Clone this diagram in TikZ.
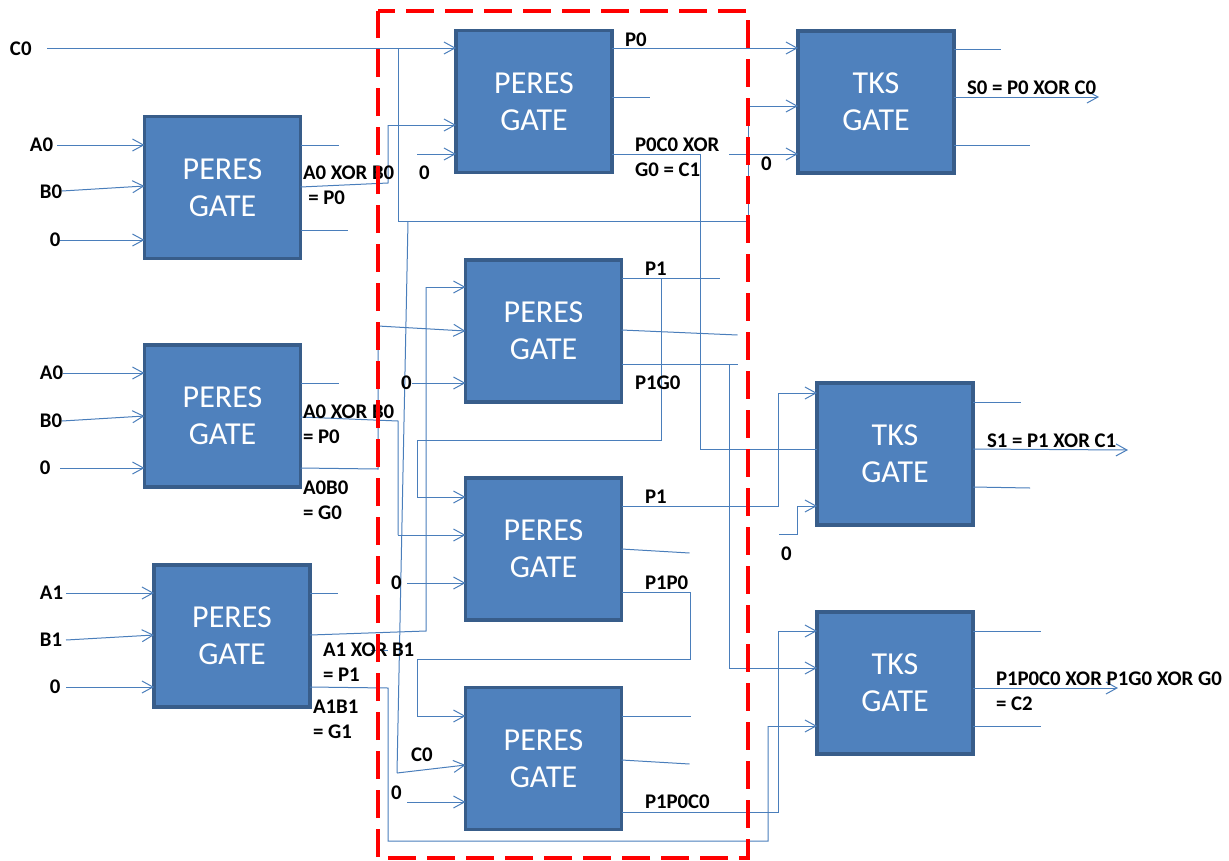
\documentclass[tikz,border=0pt]{standalone}
\usepackage{fontspec}
\setmainfont{Carlito}
\usetikzlibrary{arrows.meta}
\definecolor{gatefill}{HTML}{4F81BD}
\definecolor{gateline}{HTML}{385D8A}
\definecolor{wirecol}{HTML}{4A7EBB}
\tikzset{
  gatebox/.style={rectangle,draw=gateline,fill=gatefill,line width=2.5pt,minimum width=117pt,minimum height=106.5pt,
    inner sep=0pt,outer sep=0pt,text=white,align=center,font=\fontsize{24}{27.75}\selectfont},
  wire/.style={draw=wirecol,line width=0.75pt},
  arr/.style={wire,-{Straight Barb[length=8.25pt,width=9pt,line width=0.75pt]}},
  lab/.style={anchor=west,inner sep=0pt,outer sep=0pt,align=left,text=black,font=\fontsize{15.6}{18.75}\selectfont\bfseries},
  redframe/.style={draw=red,line width=2.7pt,dash pattern=on 21pt off 8.25pt,dash phase=8.25pt,line join=miter}
}
\begin{document}
\begin{tikzpicture}[x=0.75pt,y=-0.75pt]
\useasboundingbox (0,0) rectangle (1229,861);
% gates
\node[gatebox] (G1) at (222.5,187.5) {PERES\\GATE};
\node[gatebox] (G2) at (222.5,416) {PERES\\GATE};
\node[gatebox] (G3) at (232,636) {PERES\\GATE};
\node[gatebox] (P1) at (534,101.5) {PERES\\GATE};
\node[gatebox] (P2) at (543.5,331) {PERES\\GATE};
\node[gatebox] (P3) at (543.5,549) {PERES\\GATE};
\node[gatebox] (P4) at (543.5,758.5) {PERES\\GATE};
\node[gatebox] (T1) at (876,102) {TKS\\GATE};
\node[gatebox] (T2) at (895,454) {TKS\\GATE};
\node[gatebox] (T3) at (895,683) {TKS\\GATE};
% free ends and junctions
\coordinate (c0s) at (47,48);
\coordinate (c0j) at (398,48);
\coordinate (c0c) at (398,221);
\coordinate (c0r) at (748,221);
\coordinate (c0u) at (748,106);
\coordinate (c0b) at (408,221);
\coordinate (c0d) at (397,773);
\coordinate (ia0) at (57,145);
\coordinate (ib0) at (62,191);
\coordinate (iz0) at (60,240);
\coordinate (ja0) at (63,373);
\coordinate (jb0) at (62,421);
\coordinate (jz0) at (60,468);
\coordinate (ka1) at (66,593);
\coordinate (kb1) at (66,640);
\coordinate (kz0) at (66,687);
\coordinate (g1a) at (388,183);
\coordinate (g1b) at (388,125);
\coordinate (g2a) at (398,421);
\coordinate (g2b) at (398,535);
\coordinate (g2c) at (378,469);
\coordinate (g2d) at (378,326);
\coordinate (g3a) at (426,631);
\coordinate (g3b) at (426,287);
\coordinate (g3c) at (388,688);
\coordinate (g3d) at (388,841);
\coordinate (g3e) at (768,841);
\coordinate (g3f) at (768,726);
\coordinate (st0) at (371,650);
\coordinate (st1) at (388,650);
\coordinate (p1z) at (417,154);
\coordinate (p1j) at (700,154);
\coordinate (p1k) at (700,449);
\coordinate (t1z) at (729,154);
\coordinate (p2z) at (412,383);
\coordinate (p2j) at (661,278);
\coordinate (p2k) at (661,440);
\coordinate (p2l) at (417,440);
\coordinate (p2m) at (417,497);
\coordinate (p2n) at (729,364);
\coordinate (p2o) at (729,668);
\coordinate (p3z) at (407,583);
\coordinate (p3a) at (778,506);
\coordinate (p3b) at (778,393);
\coordinate (p3c) at (690,592);
\coordinate (p3d) at (690,659);
\coordinate (p3e) at (417,659);
\coordinate (p3f) at (417,716);
\coordinate (p4z) at (407,802);
\coordinate (p4a) at (778,812);
\coordinate (p4b) at (778,631);
\coordinate (t2a) at (779,534);
\coordinate (t2b) at (797,534);
\coordinate (t2c) at (797,506);
\coordinate (fa) at (378,11);
\coordinate (fb) at (748,11);
\coordinate (fc) at (748,858);
\coordinate (fd) at (378,858);
% connectors
\draw[arr] (c0s) -- (P1.west |- c0s);
\draw[wire] (c0j) -- (c0c) -- (c0r) -- (c0u);
\draw[arr] (c0u) -- (T1.west |- c0u);
\draw[wire] (c0b) -- (c0d);
\draw[arr] (c0d) -- (P4.west |- 0,765);
\draw[arr] (ia0) -- (G1.west |- ia0);
\draw[arr] (ib0) -- (G1.west |- 0,186);
\draw[arr] (iz0) -- (G1.west |- iz0);
\draw[arr] (ja0) -- (G2.west |- ja0);
\draw[arr] (jb0) -- (G2.west |- 0,416);
\draw[arr] (jz0) -- (G2.west |- jz0);
\draw[arr] (ka1) -- (G3.west |- ka1);
\draw[arr] (kb1) -- (G3.west |- 0,635);
\draw[arr] (kz0) -- (G3.west |- kz0);
% outputs of input gates
\draw[wire] (G1.east |- 0,145) -- ++(38,0);
\draw[wire] (G1.east |- 0,230) -- ++(47,0);
\draw[wire] (G1.east |- 0,187) -- (g1a) -- (g1b);
\draw[arr] (g1b) -- (P1.west |- g1b);
\draw[wire] (G2.east |- 0,383) -- ++(38,0);
\draw[wire] (G2.east |- 0,417) -- (g2a) -- (g2b);
\draw[arr] (g2b) -- (P3.west |- g2b);
\draw[wire] (G2.east |- 0,468) -- (g2c) -- (g2d);
\draw[arr] (g2d) -- (P2.west |- 0,331);
\draw[wire] (G3.east |- 0,593) -- ++(28,0);
\draw[wire] (G3.east |- 0,635) -- (g3a) -- (g3b);
\draw[arr] (g3b) -- (P2.west |- g3b);
\draw[wire] (st0) -- (st1);
\draw[wire] (G3.east |- 0,687) -- (g3c) -- (g3d) -- (g3e) -- (g3f);
\draw[arr] (g3f) -- (T3.west |- g3f);
% P1
\draw[arr] (P1.east |- 0,48) -- (T1.west |- 0,48);
\draw[wire] (P1.east |- 0,97) -- ++(38,0);
\draw[arr] (p1z) -- (P1.west |- p1z);
\draw[wire] (P1.east |- p1j) -- (p1j) -- (p1k) -- (T2.west |- p1k);
\draw[arr] (t1z) -- (T1.west |- t1z);
% P2
\draw[arr] (p2z) -- (P2.west |- p2z);
\draw[wire] (P2.east |- p2j) -- ++(98,0);
\draw[wire] (p2j) -- (p2k) -- (p2l) -- (p2m);
\draw[arr] (p2m) -- (P3.west |- p2m);
\draw[wire] (P2.east |- 0,330) -- ++(116,5);
\draw[wire] (P2.east |- p2n) -- ++(116,0);
\draw[wire] (p2n) -- (p2o);
\draw[arr] (p2o) -- (T3.west |- p2o);
% P3
\draw[arr] (p3z) -- (P3.west |- p3z);
\draw[wire] (P3.east |- p3a) -- (p3a) -- (p3b);
\draw[arr] (p3b) -- (T2.west |- p3b);
\draw[wire] (P3.east |- 0,549) -- ++(68,4);
\draw[wire] (P3.east |- p3c) -- (p3c) -- (p3d) -- (p3e) -- (p3f);
\draw[arr] (p3f) -- (P4.west |- p3f);
% P4
\draw[arr] (p4z) -- (P4.west |- p4z);
\draw[wire] (P4.east |- 0,716) -- ++(69,0);
\draw[wire] (P4.east |- 0,760) -- ++(68,4);
\draw[wire] (P4.east |- p4a) -- (p4a) -- (p4b);
\draw[arr] (p4b) -- (T3.west |- p4b);
% TKS
\draw[wire] (t2a) -- (t2b) -- (t2c);
\draw[arr] (t2c) -- (T2.west |- t2c);
\draw[wire] (T1.east |- 0,49) -- ++(47,0);
\draw[arr] (T1.east |- 0,97) -- ++(145,0);
\draw[wire] (T1.east |- 0,145) -- ++(76,0);
\draw[wire] (T2.east |- 0,402) -- ++(48,0);
\draw[arr] (T2.east |- 0,449) -- ++(155,1);
\draw[wire] (T2.east |- 0,487) -- ++(57,1);
\draw[wire] (T3.east |- 0,631) -- ++(68,0);
\draw[arr] (T3.east |- 0,688) -- ++(145,0);
\draw[wire] (T3.east |- 0,726) -- ++(68,0);
% labels
\node[lab] (l1) at (10,49) {C0};
\node[lab] (l2) at (30,145) {A0};
\node[lab] (l3) at (40,192) {B0};
\node[lab] (l4) at (50,240) {0};
\node[lab] (l5) at (40,373) {A0};
\node[lab] (l6) at (40,421) {B0};
\node[lab] (l7) at (40,468) {0};
\node[lab] (l8) at (40,593) {A1};
\node[lab] (l9) at (40,640) {B1};
\node[lab] (l10) at (50,687) {0};
\node[lab] (l11) at (303,185.5) {A0 XOR B0\\\hspace{4pt}= P0};
\node[lab] (l12) at (303,424) {A0 XOR B0\\= P0};
\node[lab] (l13) at (303,500) {A0B0\\= G0};
\node[lab] (l14) at (323,662) {A1 XOR B1\\= P1};
\node[lab] (l15) at (313,719.5) {A1B1\\= G1};
\node[lab] (l16) at (625,40) {P0};
\node[lab] (l17) at (419,173) {0};
\node[lab] (l18) at (635,157.5) {P0C0 XOR\\G0 = C1};
\node[lab] (l19) at (761,164) {0};
\node[lab] (l20) at (645,269) {P1};
\node[lab] (l21) at (401,383) {0};
\node[lab] (l22) at (635,383) {P1G0};
\node[lab] (l23) at (645,497) {P1};
\node[lab] (l24) at (391,583) {0};
\node[lab] (l25) at (645,583) {P1P0};
\node[lab] (l26) at (411,755) {C0};
\node[lab] (l27) at (391,793) {0};
\node[lab] (l28) at (645,802) {P1P0C0};
\node[lab] (l29) at (967,88) {S0 = P0 XOR C0};
\node[lab] (l30) at (987,441) {S1 = P1 XOR C1};
\node[lab] (l31) at (996,691) {P1P0C0 XOR P1G0 XOR G0\\= C2};
\node[lab] (l32) at (781,554) {0};
% dashed frame
\draw[redframe] (fa) -- (fb) -- (fc) -- (fd) -- cycle;
\end{tikzpicture}
\end{document}
